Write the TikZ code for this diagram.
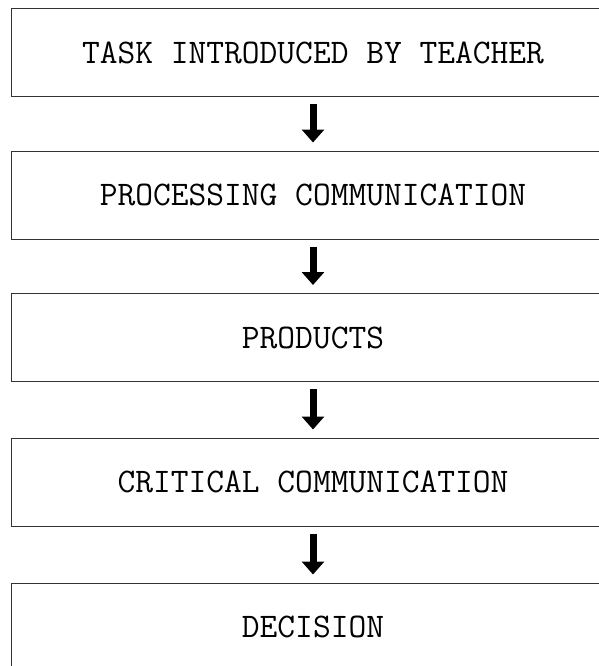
\documentclass[tikz,border=0pt]{standalone}
\usepackage{fontspec}
\usepackage{tikz}
\usetikzlibrary{arrows.meta}

\tikzset{
  stagebox/.style={draw=black!80, line width=1pt, minimum width=604pt, minimum height=88pt,
    inner sep=0pt, font=\ttfamily\fontsize{34.5}{40}\selectfont},
  flowarrow/.style={line width=7pt, -{Triangle[width=22pt,length=13pt]}}
}

\begin{document}
\begin{tikzpicture}[x=1pt, y=1pt]
            \useasboundingbox (0,0) rectangle (598,-666);

            \node[stagebox] (task) at (313, -53.0) {TASK INTRODUCED BY TEACHER};
            \node[stagebox] (proc) at (313, -195.0) {PROCESSING COMMUNICATION};
            \node[stagebox] (prod) at (313, -337.5) {PRODUCTS};
            \node[stagebox] (crit) at (313, -482.0) {CRITICAL COMMUNICATION};
            \node[stagebox] (deci) at (313, -627.0) {DECISION};

            \draw[flowarrow] ([yshift=-7pt]task.south) -- ([yshift=8pt]proc.north); % task-proc
            \draw[flowarrow] ([yshift=-7pt]proc.south) -- ([yshift=8pt]prod.north); % proc-prod
            \draw[flowarrow] ([yshift=-7pt]prod.south) -- ([yshift=8pt]crit.north); % prod-crit
            \draw[flowarrow] ([yshift=-7pt]crit.south) -- ([yshift=8pt]deci.north); % crit-deci
        \end{tikzpicture}
\end{document}
